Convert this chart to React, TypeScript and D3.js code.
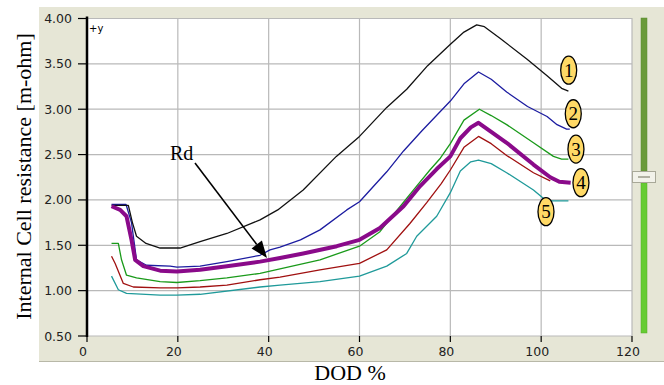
import React from "react";
import * as d3 from "d3";

type Pt = [number, number];

const xTicks = [0, 20, 40, 60, 80, 100, 120];
const yTicks = [0.5, 1.0, 1.5, 2.0, 2.5, 3.0, 3.5, 4.0];

const curve1: Pt[] = [[5.4,1.94],[9.1,1.94],[10.0,1.75],[10.9,1.60],[13,1.52],[16.1,1.47],[20.5,1.47],[24.9,1.54],[30.8,1.63],[38.1,1.78],[42,1.89],[47.6,2.11],[54.9,2.48],[60,2.70],[66,3.02],[70.4,3.22],[75,3.48],[79.9,3.71],[83,3.85],[85.8,3.93],[87.5,3.91],[91,3.78],[96.9,3.55],[101.3,3.37],[104.5,3.23],[106,3.20]];
const curve2: Pt[] = [[5.4,1.95],[8.6,1.95],[9.8,1.75],[10.9,1.34],[13.1,1.28],[18.3,1.27],[19.8,1.26],[24.9,1.27],[30.8,1.32],[38.1,1.39],[40.3,1.45],[42.5,1.48],[47,1.56],[51.3,1.67],[57.2,1.89],[60,1.98],[66,2.31],[69.7,2.54],[73.7,2.76],[80,3.09],[83,3.28],[86.2,3.41],[89,3.33],[92.4,3.19],[97,3.03],[101.3,2.92],[103.5,2.83],[105.6,2.78],[106.3,2.78]];
const curve3: Pt[] = [[5.4,1.52],[6.9,1.52],[7.6,1.34],[8.7,1.17],[10.9,1.14],[16.1,1.10],[19.8,1.09],[24.9,1.11],[30.8,1.14],[38.1,1.19],[42.5,1.24],[51.3,1.34],[60,1.49],[64.5,1.65],[68,1.87],[71.9,2.11],[75.5,2.33],[77.8,2.46],[80,2.62],[83,2.88],[86.4,3.0],[89,2.93],[92.4,2.83],[98.3,2.63],[102.7,2.48],[104.5,2.45],[106,2.45]];
const curve4: Pt[] = [[5.4,1.93],[7.3,1.89],[8.7,1.82],[9.8,1.56],[10.6,1.34],[12.4,1.27],[16.1,1.22],[19.8,1.21],[24.9,1.23],[30.8,1.27],[38.1,1.32],[42.5,1.36],[47.6,1.41],[55,1.49],[60,1.56],[64.5,1.69],[69.7,1.93],[73.3,2.15],[77,2.34],[80,2.48],[82.2,2.68],[84.5,2.80],[86.2,2.85],[89,2.75],[92.4,2.63],[98.3,2.39],[102,2.25],[104,2.20],[106.5,2.19]];
const curveRed: Pt[] = [[5.4,1.38],[6.2,1.30],[8.0,1.08],[10.2,1.04],[16.1,1.03],[19.8,1.03],[24.9,1.04],[30.8,1.06],[38.1,1.12],[42.5,1.15],[51.3,1.23],[60,1.30],[66,1.45],[71.1,1.74],[74.8,1.97],[78,2.18],[80,2.33],[83,2.58],[86.2,2.70],[89,2.62],[92.4,2.49],[98.3,2.30],[102,2.21]];
const curve5: Pt[] = [[5.4,1.16],[6.9,1.01],[8.7,0.97],[16.1,0.95],[19.8,0.95],[24.9,0.96],[38.1,1.04],[42.5,1.06],[51.3,1.10],[60,1.16],[66,1.27],[70.4,1.41],[72.6,1.60],[77,1.82],[80,2.08],[82.2,2.32],[84.5,2.42],[86.2,2.44],[89,2.40],[92.4,2.30],[98.3,2.11],[100.4,2.02],[102,1.99],[106,1.99]];

const seriesList = [
  { data: curve5, color: "#1f9a9a", width: 1.3 },
  { data: curveRed, color: "#a01010", width: 1.3 },
  { data: curve3, color: "#1a9a1a", width: 1.3 },
  { data: curve2, color: "#1c1ca0", width: 1.3 },
  { data: curve1, color: "#111111", width: 1.3 },
  { data: curve4, color: "#8a0a8a", width: 4 },
];

const badgeLabels = ["1", "2", "3", "4", "5"];
const badgeAnchors: Pt[] = [[106.06, 3.43], [107.07, 2.95], [107.66, 2.56], [108.76, 2.19], [101.06, 1.87]];

const W = 664, H = 385;
const x = d3.scaleLinear().domain([0, 120]).range([87, 632]);
const y = d3.scaleLinear().domain([0.5, 4]).range([336, 18.5]);
const line = d3.line<Pt>().x(d => x(d[0])).y(d => y(d[1])).curve(d3.curveLinear);

export default function App() {
  const tickFont = "'DejaVu Sans', Verdana, sans-serif";
  const serif = "'Liberation Serif', 'Times New Roman', serif";
  const arrowStart: Pt = [195, 163];
  const arrowEnd: Pt = [267, 258];
  const ang = Math.atan2(arrowEnd[1] - arrowStart[1], arrowEnd[0] - arrowStart[0]);
  const hl = 17, hw = 6.5;
  const bx = arrowEnd[0] - hl * Math.cos(ang), by = arrowEnd[1] - hl * Math.sin(ang);
  const head = `${arrowEnd[0]},${arrowEnd[1]} ${bx - hw * Math.sin(ang)},${by + hw * Math.cos(ang)} ${bx + hw * Math.sin(ang)},${by - hw * Math.cos(ang)}`;
  return (
    <svg width={W} height={H} style={{ position: "absolute", left: 0, top: 0, background: "#fff" }}>
      <rect x={39} y={7} width={W - 39} height={355} fill="#e6e6d6" />
      <line x1={39} x2={W} y1={361.5} y2={361.5} stroke="#b8b8a8" />
      <rect x={87} y={18} width={545} height={318} fill="#ffffff" />
      {xTicks.map(t => (
        <line key={"gx" + t} x1={x(t)} x2={x(t)} y1={18} y2={336} stroke="#b9b9b9" strokeWidth={1.2} />
      ))}
      {yTicks.map(t => (
        <line key={"gy" + t} x1={87} x2={632} y1={y(t)} y2={y(t)} stroke="#b9b9b9" strokeWidth={1.2} />
      ))}
      {seriesList.map((s, i) => (
        <path key={i} d={line(s.data) || ""} fill="none" stroke={s.color} strokeWidth={s.width} strokeLinejoin="round" />
      ))}
      {/* axes */}
      <line x1={87} x2={87} y1={16.5} y2={337} stroke="#000" strokeWidth={2.5} />
      {yTicks.map(t => (
        <g key={"ty" + t}>
          <line x1={78} x2={87} y1={y(t)} y2={y(t)} stroke="#000" strokeWidth={1.2} />
          <text x={72} y={y(t)} dy="0.36em" textAnchor="end" fontFamily={tickFont} fontSize={12.5} fill="#222">
            {t.toFixed(2)}
          </text>
        </g>
      ))}
      {xTicks.map(t => (
        <g key={"tx" + t}>
          <line x1={x(t)} x2={x(t)} y1={336} y2={342} stroke="#000" strokeWidth={1.2} />
          <text x={x(t) - 4} y={355.5} textAnchor="middle" fontFamily={tickFont} fontSize={12.5} fill="#222">
            {t}
          </text>
        </g>
      ))}
      <text x={89} y={32} fontFamily={tickFont} fontSize={10} fill="#000">+y</text>
      {/* slider */}
      <rect x={641} y={18} width={6} height={153} fill="#6a9a3a" stroke="#5a8a30" strokeWidth={0.5} />
      <rect x={641} y={183} width={6} height={150} fill="#66cc33" stroke="#55aa2a" strokeWidth={0.5} />
      <rect x={632.5} y={171.5} width={23} height={11} fill="#f2f2ea" stroke="#a8a898" />
      <line x1={638} x2={650} y1={177} y2={177} stroke="#9a9a8a" strokeWidth={1.5} />
      {/* badges */}
      {badgeAnchors.map((p, i) => (
        <g key={"b" + i}>
          <ellipse cx={x(p[0])} cy={y(p[1])} rx={8} ry={14} fill="#ffd966" stroke="#000" strokeWidth={1.3} />
          <text x={x(p[0])} y={y(p[1])} dy="0.34em" textAnchor="middle" fontFamily={serif} fontSize={19} fill="#000">
            {badgeLabels[i]}
          </text>
        </g>
      ))}
      {/* Rd annotation */}
      <text x={170} y={160} fontFamily={serif} fontSize={20} fill="#000">Rd</text>
      <line x1={arrowStart[0]} y1={arrowStart[1]} x2={bx} y2={by} stroke="#000" strokeWidth={1.6} />
      <polygon points={head} fill="#000" />
      {/* axis titles */}
      <text x={350} y={380} textAnchor="middle" fontFamily={serif} fontSize={22} fill="#000">DOD %</text>
      <text transform="translate(31,176.5) rotate(-90)" textAnchor="middle" fontFamily={serif} fontSize={22} fill="#000">
        Internal Cell resistance [m-ohm]
      </text>
    </svg>
  );
}
